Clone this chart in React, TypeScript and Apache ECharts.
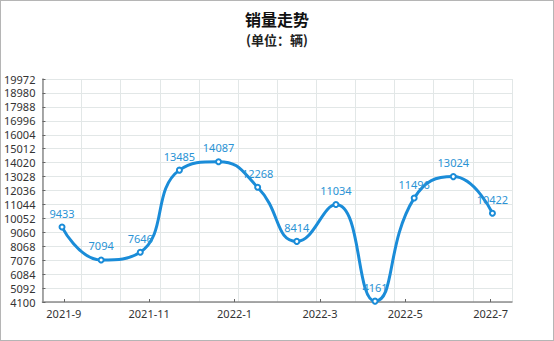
import React, { useEffect, useRef } from "react";
import * as echarts from "echarts";

const titleText = "销量走势";
const subtitleText = "(单位：辆)";
const monthLabels = [
  "2021-9", "2021-10", "2021-11", "2021-12", "2022-1", "2022-2",
  "2022-3", "2022-4", "2022-5", "2022-6", "2022-7",
];
const pointKeys = ["1", "2", "3", "4", "5", "6", "7", "8", "9", "10", "11", "12"];
const salesValues = [9433, 7094, 7646, 13485, 14087, 12268, 8414, 11034, 4161, 11496, 13024, 10422];
const yMin = 4100;
const yMax = 19972;
const yStep = 992;

export default function App() {
  const ref = useRef<HTMLDivElement>(null);
  useEffect(() => {
    if (!ref.current) return;
    const chart = echarts.init(ref.current, undefined, { renderer: "svg" });
    const font = "'Noto Sans', 'Noto Sans CJK SC', sans-serif";
    chart.setOption({
      animation: false,
      backgroundColor: "#fff",
      textStyle: { fontFamily: font },
      title: {
        text: titleText,
        subtext: subtitleText,
        left: "center",
        top: 5,
        itemGap: 6,
        textStyle: { fontSize: 16, fontWeight: "bold", color: "#111", fontFamily: "'Noto Sans CJK SC', sans-serif" },
        subtextStyle: { fontSize: 13, fontWeight: "bold", color: "#222", fontFamily: "'Noto Sans CJK SC', sans-serif" },
      },
      grid: { left: 41, right: 41, top: 78, bottom: 38, containLabel: false },
      xAxis: [
        {
          type: "category",
          data: pointKeys,
          boundaryGap: true,
          position: "bottom",
          axisLine: { show: false },
          axisTick: { show: false },
          axisLabel: { show: false },
          splitLine: { show: true, lineStyle: { color: "#e2e7e7", width: 1 } },
        },
        {
          type: "category",
          data: monthLabels,
          boundaryGap: true,
          position: "bottom",
          offset: 0,
          axisLine: { show: true, lineStyle: { color: "#8c8c8c", width: 1.5 } },
          axisTick: { show: true, inside: true, length: 3, alignWithLabel: true, interval: 1, lineStyle: { color: "#666" } },
          axisLabel: { show: true, interval: 1, color: "#333", fontSize: 11, margin: 6, fontFamily: font },
          splitLine: { show: false },
        },
      ],
      yAxis: {
        type: "value",
        min: yMin,
        max: yMax,
        interval: yStep,
        axisLine: { show: true, lineStyle: { color: "#8c8c8c", width: 1.5 } },
        axisTick: { show: true, inside: true, length: 3, lineStyle: { color: "#666" } },
        axisLabel: { color: "#333", fontSize: 11, margin: 7, fontFamily: font, formatter: (v: number) => String(v) },
        splitLine: { show: true, lineStyle: { color: "#e2e7e7", width: 1 } },
      },
      series: [
        {
          type: "line",
          xAxisIndex: 0,
          data: salesValues,
          smooth: true,
          symbol: "emptyCircle",
          symbolSize: 5,
          lineStyle: { color: "#1a8cd8", width: 3 },
          itemStyle: { color: "#1a8cd8", borderWidth: 1.5 },
          label: { show: true, position: "top", distance: 5, color: "#2a93d5", fontSize: 11, fontFamily: font },
        },
      ],
    });
    return () => chart.dispose();
  }, []);
  return (
    <div
      style={{
        position: "fixed",
        left: 0,
        top: 0,
        width: 554,
        height: 341,
        boxSizing: "border-box",
        border: "1px solid #b5b5b5",
        background: "#fff",
      }}
    >
      <div ref={ref} style={{ width: 552, height: 339 }} />
    </div>
  );
}
